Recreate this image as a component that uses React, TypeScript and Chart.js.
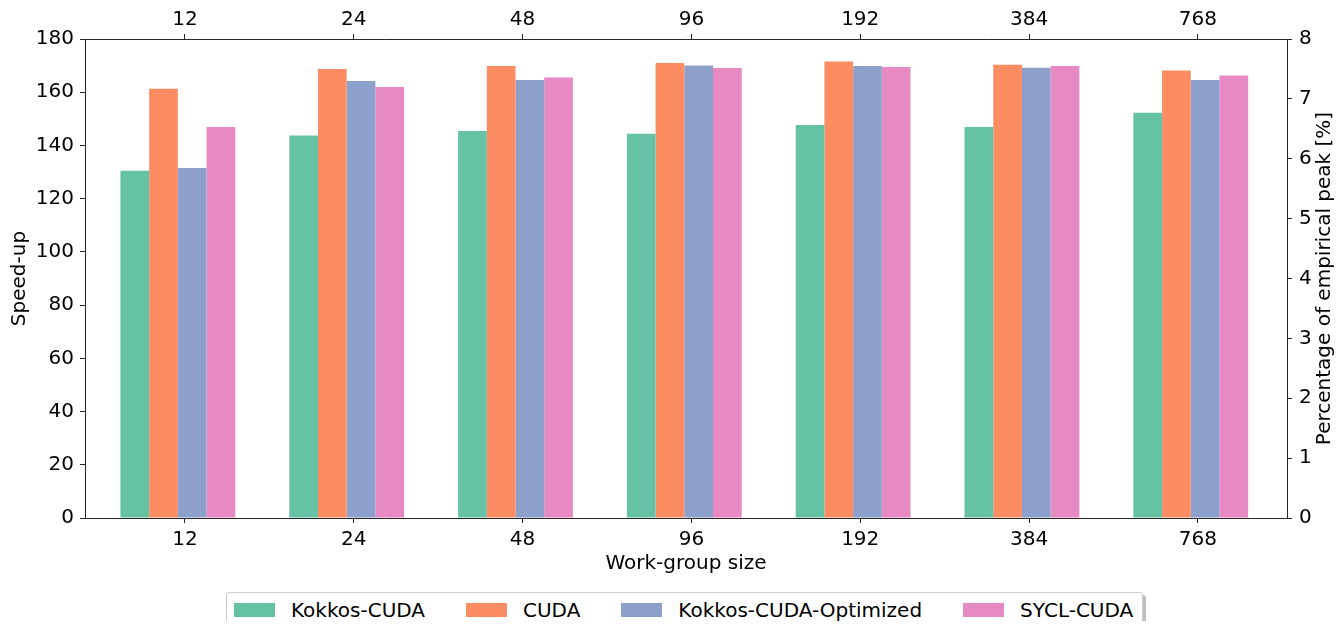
import React, { useEffect, useRef } from "react";
import { Chart, registerables } from "chart.js";

Chart.register(...registerables);

// ---- data ----
const categories = ["12", "24", "48", "96", "192", "384", "768"];
const seriesNames = ["Kokkos-CUDA", "CUDA", "Kokkos-CUDA-Optimized", "SYCL-CUDA"];
const kokkosCuda = [130.5, 143.7, 145.4, 144.4, 147.7, 146.9, 152.3];
const cuda = [161.3, 168.7, 169.9, 171.0, 171.5, 170.3, 168.2];
const kokkosCudaOptimized = [131.5, 164.2, 164.6, 170.0, 169.9, 169.2, 164.6];
const syclCuda = [146.9, 162.0, 165.5, 169.1, 169.5, 169.9, 166.3];
const seriesColors = ["#66c2a5", "#fc8d62", "#8da0cb", "#e78ac3"];
const speedupRange = [0, 180, 20];
const peakRange = [0, 8, 1];

// ---- layout constants ----
const FONT = "'DejaVu Sans', 'Liberation Sans', sans-serif";
const TEXT = "#000000";
const SPINE = "#262626";
const X_MIN = -0.55;
const X_MAX = 6.57;
const TICK_SHIFT = 0.042;

const allSeries = [kokkosCuda, cuda, kokkosCudaOptimized, syclCuda];

function setTicks(scale: any) {
  scale.ticks = categories.map((_, i) => ({ value: i + TICK_SHIFT }));
}

const rightTitlePlugin = {
  id: "rightTitle",
  afterDraw(chart: any) {
    const { ctx, chartArea } = chart;
    const s = chart.scales.y2;
    ctx.save();
    ctx.translate(s.right - 10, (chartArea.top + chartArea.bottom) / 2);
    ctx.rotate(-Math.PI / 2);
    ctx.font = `20px ${FONT}`;
    ctx.fillStyle = TEXT;
    ctx.textAlign = "center";
    ctx.textBaseline = "middle";
    ctx.fillText("Percentage of empirical peak [%]", 0, 0);
    ctx.restore();
  },
};

export default function App() {
  const canvasRef = useRef<HTMLCanvasElement | null>(null);

  useEffect(() => {
    if (!canvasRef.current) return;
    const tickFont = { family: FONT, size: 20 };
    const xCommon = {
      type: "linear" as const,
      min: X_MIN,
      max: X_MAX,
      offset: false,
      afterBuildTicks: setTicks,
      grid: {
        offset: false,
        drawOnChartArea: false,
        drawTicks: true,
        tickLength: 5,
        tickColor: SPINE,
        tickWidth: 1,
      },
      border: { display: true, color: SPINE, width: 1 },
    };
    const chart = new Chart(canvasRef.current, {
      type: "bar",
      data: {
        datasets: allSeries.map((vals, k) => ({
          label: seriesNames[k],
          data: vals.map((v, i) => ({ x: i, y: v })),
          backgroundColor: seriesColors[k],
          borderWidth: 0,
          xAxisID: "x",
          yAxisID: "y",
          categoryPercentage: 0.68,
          barPercentage: 1.0,
        })),
      },
      options: {
        animation: false,
        responsive: false,
        maintainAspectRatio: false,
        layout: { padding: 0 },
        plugins: {
          legend: { display: false },
          tooltip: { enabled: false },
        },
        scales: {
          x: {
            ...xCommon,
            position: "bottom",
            afterFit: (s: any) => {
              s.height = 70;
            },
            ticks: {
              autoSkip: false,
              maxRotation: 0,
              padding: 5,
              color: TEXT,
              font: tickFont,
              callback: (_v: any, i: number) => categories[i],
            },
            title: {
              display: true,
              text: "Work-group size",
              color: TEXT,
              font: tickFont,
              padding: { top: 0, bottom: 12 },
            },
          },
          x2: {
            ...xCommon,
            position: "top",
            afterFit: (s: any) => {
              s.height = 31;
            },
            ticks: {
              autoSkip: false,
              maxRotation: 0,
              padding: 2,
              color: TEXT,
              font: tickFont,
              callback: (_v: any, i: number) => categories[i],
            },
          },
          y: {
            type: "linear",
            position: "left",
            min: speedupRange[0],
            max: speedupRange[1],
            afterFit: (s: any) => {
              s.width = 77;
            },
            ticks: { stepSize: speedupRange[2], padding: 6, color: TEXT, font: tickFont },
            grid: {
              drawOnChartArea: false,
              drawTicks: true,
              tickLength: 5,
              tickColor: SPINE,
            },
            border: { display: true, color: SPINE, width: 1 },
            title: {
              display: true,
              text: "Speed-up",
              color: TEXT,
              font: tickFont,
              padding: 0,
            },
          },
          y2: {
            type: "linear",
            position: "right",
            min: peakRange[0],
            max: peakRange[1],
            afterFit: (s: any) => {
              s.width = 48;
            },
            ticks: { stepSize: peakRange[2], padding: 7, color: TEXT, font: tickFont },
            grid: {
              drawOnChartArea: false,
              drawTicks: true,
              tickLength: 5,
              tickColor: SPINE,
            },
            border: { display: true, color: SPINE, width: 1 },
          },
        },
      } as any,
      plugins: [rightTitlePlugin],
    });
    return () => chart.destroy();
  }, []);

  return (
    <div style={{ position: "relative", width: 1327, height: 613, fontFamily: FONT }}>
      <canvas
        ref={canvasRef}
        width={1327}
        height={580}
        style={{ position: "absolute", left: 0, top: 0, width: 1327, height: 580 }}
      />
      <div
        style={{
          position: "absolute",
          left: 218,
          top: 584,
          height: 35,
          boxSizing: "border-box",
          display: "flex",
          alignItems: "center",
          padding: "0 9px 0 7px",
          border: "1px solid #cccccc",
          borderRadius: 3,
          background: "#ffffff",
          boxShadow: "3px 3px 0 rgba(0,0,0,0.25)",
          fontSize: 20,
          color: TEXT,
          whiteSpace: "nowrap",
        }}
      >
        {seriesNames.map((name, k) => (
          <div
            key={name}
            style={{ display: "flex", alignItems: "center", marginLeft: k === 0 ? 0 : 41 }}
          >
            <span
              style={{
                display: "inline-block",
                width: 41,
                height: 14,
                background: seriesColors[k],
                marginRight: 16,
              }}
            />
            <span>{name}</span>
          </div>
        ))}
      </div>
    </div>
  );
}
